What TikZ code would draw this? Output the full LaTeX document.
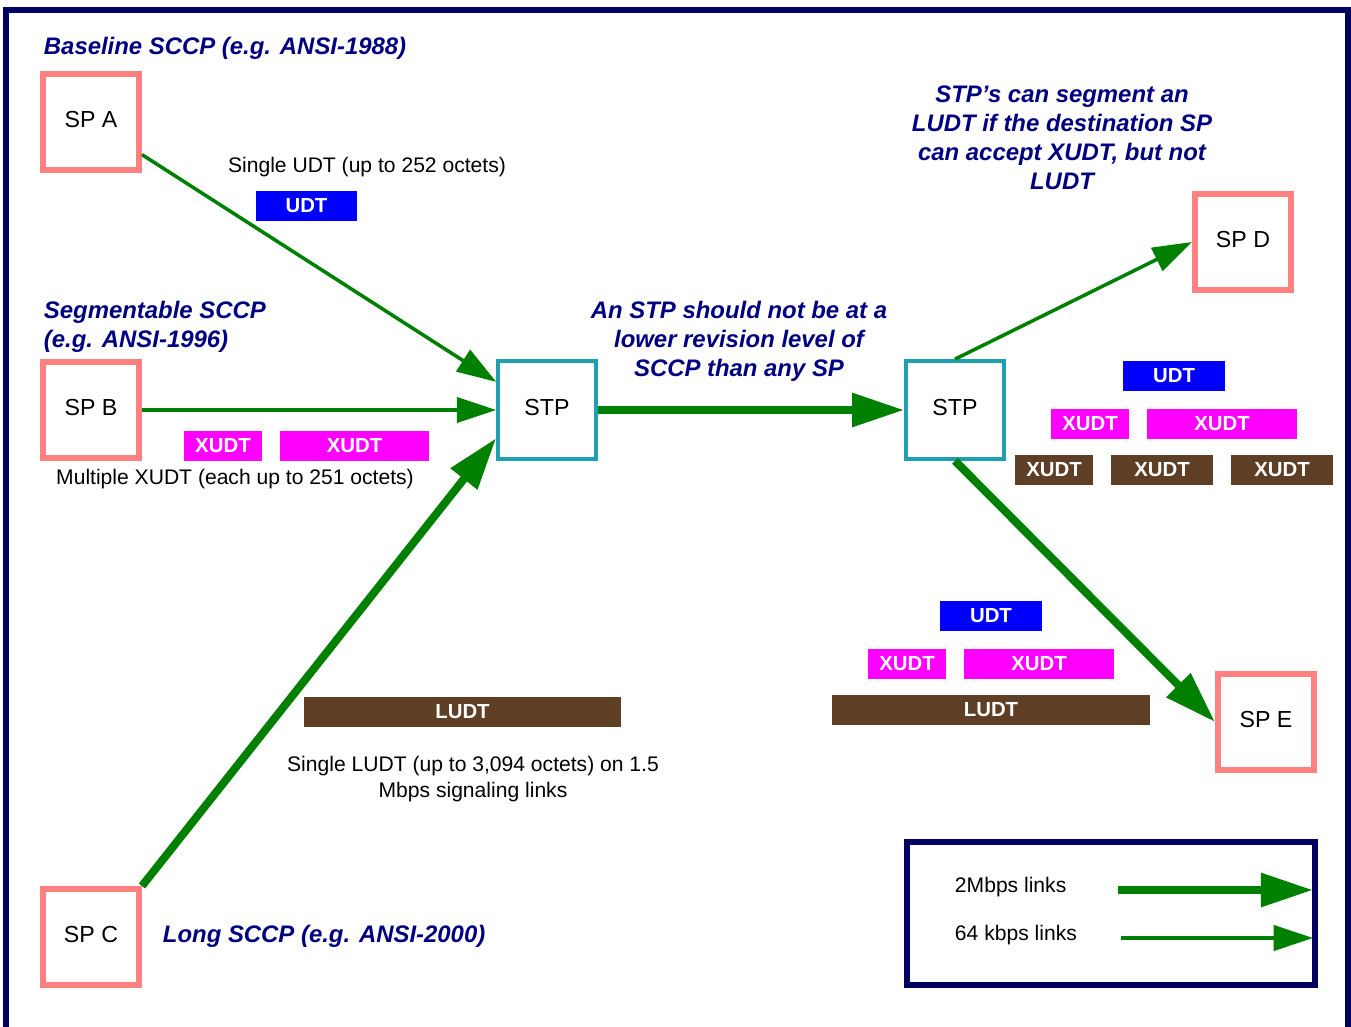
\documentclass[tikz,border=0pt]{standalone}
\usepackage{fontspec}
\setmainfont{Liberation Sans}
\usetikzlibrary{arrows.meta}
\definecolor{spred}{RGB}{255,128,128}
\definecolor{stpteal}{RGB}{30,160,176}
\definecolor{linkgreen}{RGB}{0,128,0}
\definecolor{notenavy}{RGB}{0,0,128}
\definecolor{framenavy}{RGB}{0,0,96}
\definecolor{udtblue}{RGB}{0,0,255}
\definecolor{xudtpink}{RGB}{255,0,255}
\definecolor{ludtbrown}{RGB}{94,62,36}

\begin{document}
\begin{tikzpicture}[x=0.025cm,y=-0.025cm,
  sp/.style={draw=spred,line width=4.2pt,minimum size=2.4cm,inner sep=0pt,text height=0.42cm,text depth=0.15cm,font=\fontsize{16.5}{20}\selectfont},
  stp/.style={draw=stpteal,line width=2.6pt,minimum size=2.45cm,inner sep=0pt,text height=0.42cm,text depth=0.15cm,font=\fontsize{16.5}{20}\selectfont},
  pkt/.style={text=white,font=\bfseries\fontsize{14.5}{17}\selectfont,minimum height=0.75cm,inner sep=0pt},
  link/.style={draw=linkgreen,line width=2.5pt,-{Triangle[length=28pt,width=18pt]}},
  fast/.style={draw=linkgreen,line width=5.7pt,-{Triangle[length=37pt,width=23pt]}},
  note/.style={text=notenavy,font=\bfseries\itshape\fontsize{17}{20.6}\selectfont,align=center},
  lbl/.style={font=\fontsize{15}{18}\selectfont,align=center}]
  \useasboundingbox (0,0) rectangle (1351,1027);
  \draw[framenavy,line width=4.25pt] (6,1060) -- (6,10) -- (1348,10) -- (1348,1060);

  \node[sp] (spa) at (91,122) {SP A};
  \node[sp] (spb) at (91,410) {SP B};
  \node[sp] (spc) at (91,937) {SP C};
  \node[sp] (spd) at (1243,242) {SP D};
  \node[sp] (spe) at (1266,722) {SP E};
  \node[stp] (stpl) at (547,410) {STP};
  \node[stp] (stpr) at (955,410) {STP};

  \draw[link] (spa) -- (stpl.151);
  \draw[link] (spb) -- (stpl);
  \draw[fast] (spc.north east) -- (stpl.209);
  \draw[fast] (stpl) -- (stpr);
  \draw[link] (stpr.north) -- (spd.west);
  \draw[fast] (stpr.south) -- (spe.west);

  \node[note,anchor=west] (basenote) at (39,48) {Baseline SCCP (e.g. ANSI-1988)};
  \node[note,anchor=west,align=left] (segnote) at (39,326.5) {Segmentable SCCP\\(e.g. ANSI-1996)};
  \node[note,anchor=west] (longnote) at (158,936) {Long SCCP (e.g. ANSI-2000)};
  \node[note] (revnote) at (739,341) {An STP should not be at a\\lower revision level of\\SCCP than any SP};
  \node[note] (segmnote) at (1062,137.5) {STP’s can segment an\\LUDT if the destination SP\\can accept XUDT, but not\\LUDT};

  \node[lbl] (udtlbl) at (367,167) {Single UDT (up to 252 octets)};
  \node[lbl] (xudtlbl) at (235,479) {Multiple XUDT (each up to 251 octets)};
  \node[lbl,font=\fontsize{15}{18.4}\selectfont] (ludtlbl) at (473,779) {Single LUDT (up to 3,094 octets) on 1.5\\Mbps signaling links};

  \node[pkt,fill=udtblue,minimum width=2.525cm] (udta) at (306.5,205.5) {UDT};
  \node[pkt,fill=xudtpink,minimum width=1.95cm] (xudtb1) at (223,445.5) {XUDT};
  \node[pkt,fill=xudtpink,minimum width=3.725cm] (xudtb2) at (354.5,445.5) {XUDT};
  \node[pkt,fill=ludtbrown,minimum width=7.925cm] (ludtc) at (462.5,711.5) {LUDT};

  \node[pkt,fill=udtblue,minimum width=2.55cm] (udtd) at (1174,376) {UDT};
  \node[pkt,fill=xudtpink,minimum width=1.95cm] (xudtd1) at (1090,424) {XUDT};
  \node[pkt,fill=xudtpink,minimum width=3.75cm] (xudtd2) at (1222,424) {XUDT};
  \node[pkt,fill=ludtbrown,minimum width=1.95cm] (segd1) at (1054,470) {XUDT};
  \node[pkt,fill=ludtbrown,minimum width=2.55cm] (segd2) at (1162,470) {XUDT};
  \node[pkt,fill=ludtbrown,minimum width=2.55cm] (segd3) at (1282,470) {XUDT};

  \node[pkt,fill=udtblue,minimum width=2.55cm] (udte) at (991,616) {UDT};
  \node[pkt,fill=xudtpink,minimum width=1.95cm] (xudte1) at (907,664) {XUDT};
  \node[pkt,fill=xudtpink,minimum width=3.75cm] (xudte2) at (1039,664) {XUDT};
  \node[pkt,fill=ludtbrown,minimum width=7.95cm] (ludte) at (991,710) {LUDT};

  \node[draw=framenavy,line width=4.25pt,minimum width=10.2cm,minimum height=3.575cm] (legend) at (1111,913.5) {};
  \node[lbl,anchor=west] (fastkey) at (950,887) {2Mbps links};
  \node[lbl,anchor=west] (slowkey) at (950,935) {64 kbps links};
  \coordinate (fasta) at (1118,890);
  \coordinate (fastb) at (1313,890);
  \coordinate (slowa) at (1121,938);
  \coordinate (slowb) at (1313,938);
  \draw[fast] (fasta) -- (fastb);
  \draw[link] (slowa) -- (slowb);
\end{tikzpicture}
\end{document}
